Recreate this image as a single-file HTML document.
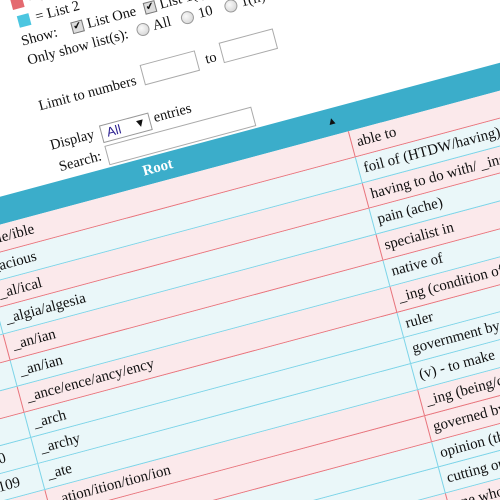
<!DOCTYPE html>
<html><head><meta charset="utf-8"><style>
html,body{margin:0;padding:0;width:500px;height:500px;overflow:hidden;background:#fff}
#w{position:relative;width:500px;height:500px;overflow:hidden}
#r{position:absolute;left:0;top:0;width:10px;height:10px;transform:rotate(-15deg);transform-origin:0 0;font-family:"Liberation Serif",serif;font-size:14.5px;color:#111}
.a{position:absolute;white-space:nowrap;line-height:16px}
.box{position:absolute;border:1px solid #aaa;background:#fff;box-sizing:border-box}
.cb{position:absolute;width:12px;height:12px;border:1px solid #777;background:#ddd;box-sizing:border-box;font-size:10px;line-height:10px;text-align:center;font-family:"DejaVu Sans",sans-serif}
.rd{position:absolute;width:13px;height:13px;border-radius:50%;border:1px solid #999;background:radial-gradient(circle at 40% 35%,#fafafa,#cfcfcf);box-sizing:border-box}
.row{position:absolute;left:-140px;width:900px;height:26.8px;box-sizing:border-box}
.p{background:#fbe9eb;border-bottom:1px solid #e8747c}
.c{background:#eaf7f9;border-bottom:1px solid #7dd4e8}
.cell{position:absolute;top:0;height:100%;line-height:26px;white-space:nowrap;font-size:15px}
.p .d{border-left:1px solid #e8747c}
.c .d{border-left:1px solid #7dd4e8}
</style></head><body><div id="w">
<div id="r">
<div style="position:absolute;left:10px;top:1px;width:12px;height:12px;background:#e46a70"></div>
<div class="a" style="left:28px;top:-1px">= List 1</div>
<div style="position:absolute;left:12px;top:20px;width:12px;height:12px;background:#4cc6e0"></div>
<div class="a" style="left:30px;top:18px">= List 2</div>

<div class="a" style="left:10px;top:38px">Show:</div>
<div class="cb" style="left:62px;top:40px">✔</div>
<div class="a" style="left:78px;top:38px">List One</div>
<div class="cb" style="left:137px;top:40px">✔</div>
<div class="a" style="left:153px;top:38px">List 1(i)</div>

<div class="a" style="left:11px;top:58px">Only show list(s):</div>
<div class="rd" style="left:124px;top:59px"></div>
<div class="a" style="left:141px;top:57px">All</div>
<div class="rd" style="left:170px;top:59px"></div>
<div class="a" style="left:188px;top:57px">10</div>
<div class="rd" style="left:215px;top:59px"></div>
<div class="a" style="left:232px;top:57px">1(ii)</div>

<div class="a" style="left:10px;top:105px">Limit to numbers</div>
<div class="box" style="left:118px;top:99px;width:57px;height:21px"></div>
<div class="a" style="left:183px;top:103px">to</div>
<div class="box" style="left:200px;top:98px;width:56px;height:21px"></div>

<div class="a" style="left:11px;top:146px">Display</div>
<div class="box" style="left:63px;top:147px;width:51px;height:18px;border-color:#999"><span style="position:absolute;left:5px;top:0;font:13px/16px 'Liberation Sans',sans-serif;color:#2a1f8f">All</span><span style="position:absolute;left:36px;top:0;font:9px/16px 'DejaVu Sans',sans-serif">▼</span></div>
<div class="a" style="left:118px;top:146px">entries</div>

<div class="a" style="left:14px;top:169px">Search:</div>
<div class="box" style="left:63px;top:168px;width:152px;height:20px"></div>

<div style="position:absolute;left:-140px;top:190px;width:900px;height:27px;background:#3badca"></div>
<div class="a" style="left:-84px;top:195px;width:386px;text-align:center;color:#fff;font-weight:bold;font-size:15px">Root</div>
<div class="a" style="left:286px;top:195px;font:8px/16px 'DejaVu Sans',sans-serif">▲</div>

<div style="position:absolute;left:0;top:217px">
<div class="row p" style="top:0"><div class="cell" style="left:56px;padding-left:6px">able/ible</div><div class="cell d" style="left:442px;padding-left:5px">able to</div></div>
<div class="row c" style="top:26.8px"><div class="cell d" style="left:56px;padding-left:6px">_acious</div><div class="cell d" style="left:442px;padding-left:5px">foil of (HTDW/having)</div></div>
<div class="row p" style="top:53.6px"><div class="cell d" style="left:56px;padding-left:6px">_al/ical</div><div class="cell d" style="left:442px;padding-left:5px">having to do with/ _ing</div></div>
<div class="row c" style="top:80.4px"><div class="cell d" style="left:56px;padding-left:6px">_algia/algesia</div><div class="cell d" style="left:442px;padding-left:5px">pain (ache)</div></div>
<div class="row p" style="top:107.2px"><div class="cell d" style="left:56px;padding-left:6px">_an/ian</div><div class="cell d" style="left:442px;padding-left:5px">specialist in</div></div>
<div class="row c" style="top:134px"><div class="cell d" style="left:56px;padding-left:6px">_an/ian</div><div class="cell d" style="left:442px;padding-left:5px">native of</div></div>
<div class="row p" style="top:160.8px"><div class="cell d" style="left:56px;padding-left:6px">_ance/ence/ancy/ency</div><div class="cell d" style="left:442px;padding-left:5px">_ing (condition of)</div></div>
<div class="row c" style="top:187.6px"><div class="cell d" style="left:56px;padding-left:6px">_arch</div><div class="cell d" style="left:442px;padding-left:5px">ruler</div></div>
<div class="row c" style="top:214.4px"><div class="cell" style="left:12px">10</div><div class="cell d" style="left:56px;padding-left:6px">_archy</div><div class="cell d" style="left:442px;padding-left:5px">government by</div></div>
<div class="row c" style="top:241.2px"><div class="cell" style="left:12px">109</div><div class="cell d" style="left:56px;padding-left:6px">_ate</div><div class="cell d" style="left:442px;padding-left:5px">(v) - to make</div></div>
<div class="row p" style="top:268px"><div class="cell" style="left:12px">110</div><div class="cell d" style="left:56px;padding-left:6px">_ation/ition/tion/ion</div><div class="cell d" style="left:442px;padding-left:5px">_ing (being/condition)</div></div>
<div class="row p" style="top:294.8px"><div class="cell d" style="left:56px;padding-left:6px">_cracy</div><div class="cell d" style="left:442px;padding-left:5px">governed by</div></div>
<div class="row c" style="top:321.6px"><div class="cell d" style="left:56px;padding-left:6px">_dox/doxy</div><div class="cell d" style="left:442px;padding-left:5px">opinion (thought)</div></div>
<div class="row c" style="top:348.4px"><div class="cell d" style="left:56px;padding-left:6px">_ectomy</div><div class="cell d" style="left:442px;padding-left:5px">cutting out</div></div>
<div class="row p" style="top:375.2px"><div class="cell d" style="left:56px;padding-left:6px">_ee</div><div class="cell d" style="left:442px;padding-left:5px">one who is</div></div>
</div>
</div>
</div></body></html>
